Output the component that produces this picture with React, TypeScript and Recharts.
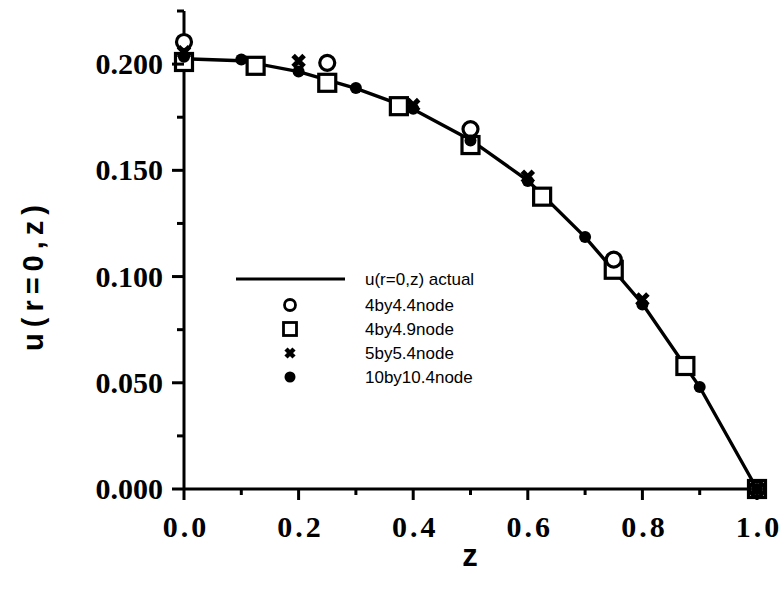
import {
  ComposedChart,
  Line,
  Scatter,
  XAxis,
  YAxis,
  Legend,
} from "recharts"

// z positions of the actual solution curve and its values
const actualZ = [0, 0.1, 0.2, 0.3, 0.4, 0.5, 0.6, 0.7, 0.8, 0.9, 1.0]
const actualU = [0.2025, 0.2016, 0.1965, 0.1886, 0.1787, 0.1643, 0.1452, 0.1186, 0.0872, 0.048, 0]

const z44 = [0, 0.25, 0.5, 0.75, 1.0]
const u44 = [0.2104, 0.2006, 0.1694, 0.108, 0]

const z49 = [0, 0.125, 0.25, 0.375, 0.5, 0.625, 0.75, 0.875, 1.0]
const u49 = [0.201, 0.1992, 0.1912, 0.1802, 0.1619, 0.1376, 0.1032, 0.0579, 0]

const z54 = [0, 0.2, 0.4, 0.6, 0.8, 1.0]
const u54 = [0.2056, 0.2015, 0.1807, 0.147, 0.0892, 0]

const z104 = [0, 0.1, 0.2, 0.3, 0.4, 0.5, 0.6, 0.7, 0.8, 0.9, 1.0]
const u104 = [0.2035, 0.2022, 0.1965, 0.1888, 0.179, 0.164, 0.145, 0.1186, 0.0868, 0.048, 0]

const xTicks = [0, 0.1, 0.2, 0.3, 0.4, 0.5, 0.6, 0.7, 0.8, 0.9, 1.0]
const yTicks = [0, 0.025, 0.05, 0.075, 0.1, 0.125, 0.15, 0.175, 0.2, 0.225]

const legendNames = [
  "u(r=0,z) actual",
  "4by4.4node",
  "4by4.9node",
  "5by5.4node",
  "10by10.4node",
]

const zip = (zs: number[], us: number[]) => zs.map((z, i) => ({ z, u: us[i] }))

const actualData = zip(actualZ, actualU)
const data44 = zip(z44, u44)
const data49 = zip(z49, u49)
const data54 = zip(z54, u54)
const data104 = zip(z104, u104)

const serif = "'Liberation Serif', 'Times New Roman', serif"
const sans = "'Liberation Sans', Arial, sans-serif"

const OpenCircle = ({ cx, cy, r = 7.5, sw = 3.2 }: any) => (
  <circle cx={cx} cy={cy} r={r} fill="#fff" stroke="#000" strokeWidth={sw} />
)
const OpenSquare = ({ cx, cy, h = 8.5, sw = 3.2 }: any) => (
  <rect x={cx - h} y={cy - h} width={h * 2} height={h * 2} fill="#fff" stroke="#000" strokeWidth={sw} />
)
const Cross = ({ cx, cy, h = 5.5, sw = 5 }: any) => (
  <path
    d={`M${cx - h},${cy - h}L${cx + h},${cy + h}M${cx + h},${cy - h}L${cx - h},${cy + h}`}
    stroke="#000"
    strokeWidth={sw}
    strokeLinecap="butt"
  />
)
const Dot = ({ cx, cy, r = 6 }: any) => <circle cx={cx} cy={cy} r={r} fill="#000" />

const YTick = ({ x, y, payload, index }: any) => {
  const major = index % 2 === 0
  return (
    <g>
      <line x1={x} x2={x - (major ? 12 : 7)} y1={y} y2={y} stroke="#000" strokeWidth={3} />
      {major && (
        <text x={x - 21} y={y + 10} textAnchor="end" fontFamily={serif} fontWeight="bold" fontSize={30} fill="#000">
          {payload.value.toFixed(3)}
        </text>
      )}
    </g>
  )
}

const XTick = ({ x, y, payload, index }: any) => {
  const major = index % 2 === 0
  return (
    <g>
      <line x1={x} x2={x} y1={y} y2={y + (major ? 11 : 6)} stroke="#000" strokeWidth={3} />
      {major && (
        <text x={x + 2} y={y + 48} textAnchor="middle" fontFamily={serif} fontWeight="bold" fontSize={30} letterSpacing={3} fill="#000">
          {payload.value.toFixed(1)}
        </text>
      )}
    </g>
  )
}

const YTitle = () => (
  <text
    x={33}
    y={275}
    transform="rotate(-90 33 275)"
    textAnchor="middle"
    dominantBaseline="central"
    fontFamily={sans}
    fontWeight="bold"
    fontSize={29}
    letterSpacing={6}
    fill="#000"
  >
    u(r=0,z)
  </text>
)

const XTitle = () => (
  <text x={470} y={566} textAnchor="middle" fontFamily={sans} fontWeight="bold" fontSize={31} fill="#000">
    z
  </text>
)

const LegendBox = () => {
  const rows = [17, 43, 67, 91, 115]
  const mx = 70
  return (
    <svg width={300} height={130}>
      <line x1={16} x2={125} y1={rows[0]} y2={rows[0]} stroke="#000" strokeWidth={3} />
      <OpenCircle cx={mx} cy={rows[1]} r={5.5} sw={2.8} />
      <OpenSquare cx={mx} cy={rows[2]} h={6.5} sw={2.8} />
      <Cross cx={mx} cy={rows[3]} h={4} sw={4.5} />
      <Dot cx={mx} cy={rows[4]} r={5.5} />
      {legendNames.map((n, i) => (
        <text key={n} x={145} y={rows[i] + 6} fontFamily={sans} fontSize={17} fill="#000">
          {n}
        </text>
      ))}
    </svg>
  )
}

export default function App() {
  return (
    <div style={{ position: "absolute", left: 0, top: 0, width: 784, height: 592, background: "#fff" }}>
      <ComposedChart width={784} height={592} margin={{ top: 11, right: 27, left: 0, bottom: 0 }}>
        <XAxis
          type="number"
          dataKey="z"
          domain={[0, 1]}
          ticks={xTicks}
          height={103}
          interval={0}
          axisLine={{ stroke: "#000", strokeWidth: 3 }}
          tickLine={false}
          tickSize={0}
          tickMargin={0}
          tick={<XTick />}
          label={<XTitle />}
        />
        <YAxis
          type="number"
          domain={[0, 0.225]}
          ticks={yTicks}
          width={184}
          interval={0}
          axisLine={{ stroke: "#000", strokeWidth: 3 }}
          tickLine={false}
          tickSize={0}
          tickMargin={0}
          tick={<YTick />}
          label={<YTitle />}
        />
        <Legend
          layout="vertical"
          align="center"
          verticalAlign="middle"
          wrapperStyle={{ left: 220, top: 262, width: 300, height: 130 }}
          content={<LegendBox />}
        />
        <Line data={actualData} dataKey="u" type="linear" stroke="#000" strokeWidth={3.4} dot={false} isAnimationActive={false} name={legendNames[0]} />
        <Scatter data={data49} dataKey="u" shape={<OpenSquare />} isAnimationActive={false} name={legendNames[2]} />
        <Scatter data={data44} dataKey="u" shape={<OpenCircle />} isAnimationActive={false} name={legendNames[1]} />
        <Scatter data={data54} dataKey="u" shape={<Cross />} isAnimationActive={false} name={legendNames[3]} />
        <Scatter data={data104} dataKey="u" shape={<Dot />} isAnimationActive={false} name={legendNames[4]} />
      </ComposedChart>
    </div>
  )
}
